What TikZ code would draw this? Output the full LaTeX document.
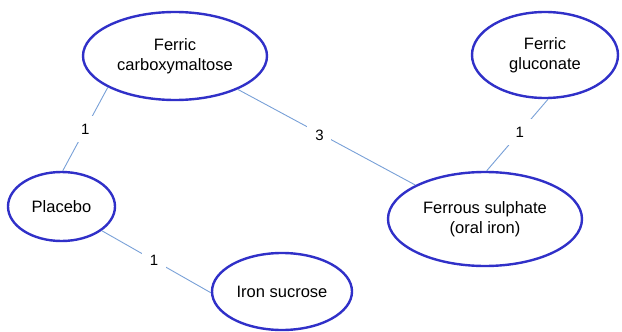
\documentclass[tikz,border=0pt]{standalone}
\usepackage{fontspec}
\setmainfont{Liberation Sans}
\usetikzlibrary{shapes.geometric}
\definecolor{ellblue}{RGB}{48,48,200}
\definecolor{linkblue}{RGB}{120,160,215}
\tikzset{
  trt/.style={ellipse, draw=ellblue, line width=2.4pt, inner sep=0pt, align=center,
    font=\fontsize{16.5}{20}\selectfont, text=black},
  link/.style={draw=linkblue, line width=0.9pt},
  lbl/.style={fill=white, inner sep=0pt, minimum width=24pt, minimum height=26pt,
    font=\fontsize{15}{18}\selectfont, text=black}
}
\begin{document}
\begin{tikzpicture}[x=1pt,y=-1pt]
\useasboundingbox (0,0) rectangle (622,332);
\node[trt, minimum width=184pt, minimum height=88pt] (fcm) at (175,56) {Ferric\\carboxymaltose};
\node[trt, minimum width=146pt, minimum height=86pt] (gl) at (545,55) {Ferric\\gluconate};
\node[trt, minimum width=107pt, minimum height=69pt] (pl) at (61.5,206.5) {Placebo};
\node[trt, minimum width=194pt, minimum height=94pt] (fs) at (485,219) {Ferrous sulphate\\(oral iron)};
\node[trt, minimum width=140pt, minimum height=77pt] (is) at (282,291.5) {Iron sucrose};
\draw[link] (fcm.205) -- node[lbl, pos=0.5] {1} (pl.88);
\draw[link] (fcm.-28) -- node[lbl, pos=0.46, yshift=-2pt] {3} (fs.154);
\draw[link] (gl.274) -- node[lbl, pos=0.46] {1} (fs.88);
\draw[link] (pl.-31) -- node[lbl, pos=0.48] {1} (is.181);
\end{tikzpicture}
\end{document}
